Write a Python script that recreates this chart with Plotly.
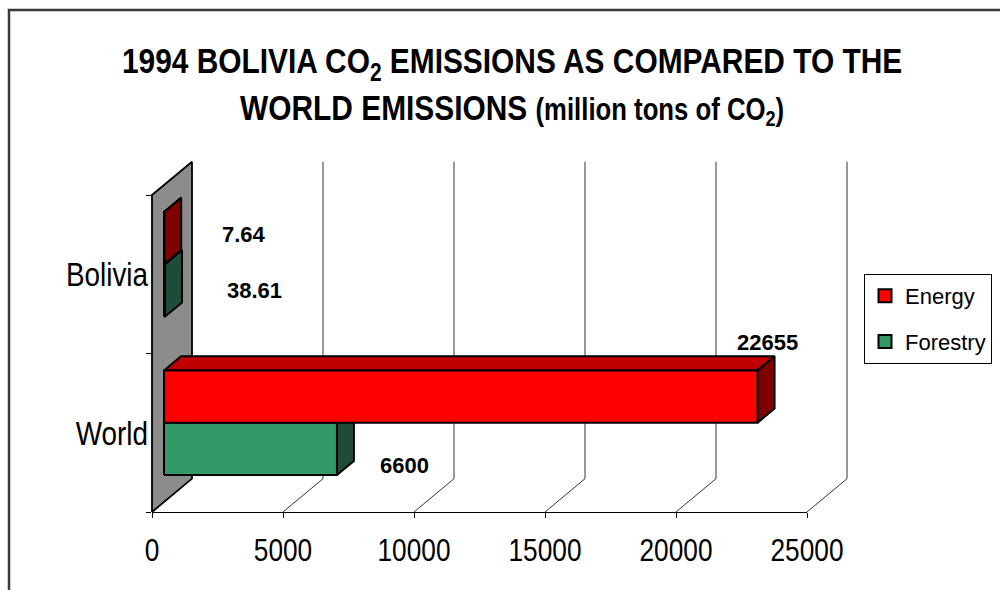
import plotly.graph_objects as go

# ---- data -------------------------------------------------------------
categories = ["World", "Bolivia"]
energy = [22655, 7.64]
forestry = [6600, 38.61]
x_ticks = [0, 5000, 10000, 15000, 20000, 25000]

# ---- layout geometry (pixels of the 1000x590 page) -------------------
W, H = 1000, 590
FRONT_LEFT, FRONT_RIGHT = 152, 807      # value axis 0 .. 25000 on the front floor edge
FLOOR_Y, FRONT_TOP = 512, 195           # front plane spans categories -0.5 .. 1.5
DEPTH_PX = (40, -33.3)                  # offset of the back wall relative to the front plane
BAR_D0, BAR_D1 = 0.30, 0.725            # bar depth slice (fraction of the full depth)
BAR_T = 0.33                            # bar thickness in category units
CONDENSE = 0.82                         # horizontal squeeze for the narrow-style texts
TITLE_CONDENSE = 0.83

K = (FRONT_RIGHT - FRONT_LEFT) / x_ticks[-1]   # px per value unit
CU = (FLOOR_Y - FRONT_TOP) / 2.0               # px per category unit
DX = DEPTH_PX[0] / K
DY = -DEPTH_PX[1] / CU

SANS = "Liberation Sans, Arial, sans-serif"

ENERGY_C = dict(front="#FF0000", top="#C00000", end="#800000")
FOREST_C = dict(front="#339966", top="#267350", end="#1D4D38")


def px_x(p):
    return p / W


def px_y(p):
    return 1 - p / H


def proj(v, c, d):
    """Point at value v, category coordinate c and depth d (0 front .. 1 back)."""
    return v + d * DX, c + d * DY


# drawing area for the 3-D frame (x2/y2), mapped onto the same pixel scale
DRAW_L, DRAW_R, DRAW_T, DRAW_B = 60, 960, 130, 540
x2_range = [(DRAW_L - FRONT_LEFT) / K, (DRAW_R - FRONT_LEFT) / K]
y2_range = [(FLOOR_Y - DRAW_B) / CU - 0.5, (FLOOR_Y - DRAW_T) / CU - 0.5]

fig = go.Figure()


def poly(points, fill, width=2.0, color="black"):
    xs = [p[0] for p in points] + [points[0][0]]
    ys = [p[1] for p in points] + [points[0][1]]
    fig.add_trace(go.Scatter(
        x=xs, y=ys, mode="lines", fill="toself", fillcolor=fill,
        line=dict(color=color, width=width), xaxis="x2", yaxis="y2",
        showlegend=False, hoverinfo="skip"))


# axis-only subplot: keeps the front-edge axis, ticks and labels
fig.add_trace(go.Scatter(x=[None], y=[None], showlegend=False, hoverinfo="skip"))

# back-wall gridlines and floor diagonals
gx, gy = [], []
for v in x_ticks[1:]:
    for a, b in ((proj(v, -0.5, 1), proj(v, 1.5, 1)), (proj(v, -0.5, 0), proj(v, -0.5, 1))):
        gx += [a[0], b[0], None]
        gy += [a[1], b[1], None]
fig.add_trace(go.Scatter(x=gx, y=gy, mode="lines", line=dict(color="#333333", width=1),
                         xaxis="x2", yaxis="y2", showlegend=False, hoverinfo="skip"))

# side wall
poly([proj(0, -0.5, 0), proj(0, 1.5, 0), proj(0, 1.5, 1), proj(0, -0.5, 1)], "#8C8C8C", 1.8)


def bar(v, c_lo, c_hi, colors):
    poly([proj(0, c_hi, BAR_D0), proj(v, c_hi, BAR_D0), proj(v, c_hi, BAR_D1), proj(0, c_hi, BAR_D1)],
         colors["top"])
    poly([proj(v, c_lo, BAR_D0), proj(v, c_lo, BAR_D1), proj(v, c_hi, BAR_D1), proj(v, c_hi, BAR_D0)],
         colors["end"])
    poly([proj(0, c_lo, BAR_D0), proj(v, c_lo, BAR_D0), proj(v, c_hi, BAR_D0), proj(0, c_hi, BAR_D0)],
         colors["front"])


# paint from the back category to the front one
for i in reversed(range(len(categories))):
    bar(forestry[i], i - BAR_T, i, FOREST_C)
    bar(energy[i], i, i + BAR_T, ENERGY_C)

# legend entries
for name, col in (("Energy", ENERGY_C["front"]), ("Forestry", FOREST_C["front"])):
    fig.add_trace(go.Scatter(
        x=[None], y=[None], mode="markers", name=name, legendgroup=name,
        marker=dict(symbol="square", size=13, color=col, line=dict(color="black", width=2)),
        xaxis="x2", yaxis="y2"))

# value labels
label_font = dict(family=SANS, size=22, color="black")
label_shift = {("energy", 0): (22, 64), ("forestry", 0): (80, -7),
               ("energy", 1): (92, 14), ("forestry", 1): (101, 10)}
annotations = []
for key, vals, sign in (("energy", energy, 1), ("forestry", forestry, -1)):
    for i, v in enumerate(vals):
        sx, sy = label_shift[(key, i)]
        annotations.append(dict(
            x=v, y=i + sign * BAR_T / 2, xref="x2", yref="y2", text=f"<b>{v:g}</b>",
            showarrow=False, xanchor="center", yanchor="middle",
            xshift=sx, yshift=sy, font=label_font))

TITLE_INDEX = len(annotations)
annotations.append(dict(
    x=px_x(512), y=px_y(85), xref="paper", yref="paper", showarrow=False,
    xanchor="center", yanchor="middle", align="center",
    text=("<b>1994 BOLIVIA CO<sub>2</sub> EMISSIONS AS COMPARED TO THE<br>"
          "WORLD EMISSIONS <span style='font-size:31px'>(million tons of CO<sub>2</sub>)</span></b>"),
    font=dict(family=SANS, size=36, color="black")))

fig.update_layout(
    width=W, height=H,
    margin=dict(l=0, r=0, t=0, b=0),
    paper_bgcolor="white", plot_bgcolor="rgba(0,0,0,0)",
    showlegend=True,
    legend=dict(x=px_x(864), y=px_y(274), xanchor="left", yanchor="top",
                bgcolor="white", bordercolor="black", borderwidth=1,
                font=dict(family=SANS, size=22, color="black"),
                itemwidth=30, tracegroupgap=14, traceorder="grouped"),
    xaxis=dict(domain=[px_x(FRONT_LEFT), px_x(FRONT_RIGHT)], range=[x_ticks[0], x_ticks[-1]],
               anchor="y", showline=True, linecolor="black", linewidth=1,
               ticks="outside", ticklen=5, tickcolor="black", tickwidth=1,
               tickvals=x_ticks, ticktext=[str(t) for t in x_ticks],
               showgrid=False, zeroline=False, automargin=False,
               ticklabelstandoff=5,
               tickfont=dict(family=SANS, size=32, color="black")),
    yaxis=dict(domain=[px_y(FLOOR_Y), px_y(FRONT_TOP)], range=[-0.5, 1.5], anchor="x",
               tickvals=[0, 1], ticktext=categories, ticks="",
               minor=dict(tick0=-0.5, dtick=1, ticks="outside", ticklen=5,
                          tickcolor="black", tickwidth=1, showgrid=False),
               showline=False, showgrid=False, zeroline=False, automargin=False,
               ticklabelstandoff=3,
               tickfont=dict(family=SANS, size=34, color="black")),
    xaxis2=dict(domain=[px_x(DRAW_L), px_x(DRAW_R)], range=x2_range, anchor="y2",
                visible=False, showgrid=False, zeroline=False),
    yaxis2=dict(domain=[px_y(DRAW_B), px_y(DRAW_T)], range=y2_range, anchor="x2",
                visible=False, showgrid=False, zeroline=False),
    annotations=annotations,
    shapes=[dict(type="rect", xref="paper", yref="paper",
                 x0=px_x(9), x1=1.05, y0=-0.05, y1=px_y(10),
                 line=dict(color="#3A3A3A", width=2.5), fillcolor="rgba(0,0,0,0)")],
)

# squeeze axis labels and the title horizontally, in the style of a narrow typeface
condense_js = """
var gd = document.getElementById('{plot_id}');
function condense(sel, s, anchor) {
  gd.querySelectorAll(sel).forEach(function (t) {
    var b = t.getBBox();
    var cx = anchor === 'end' ? b.x + b.width : b.x + b.width / 2;
    var tr = t.getAttribute('transform') || '';
    t.setAttribute('transform', tr + ' translate(' + cx + ',0) scale(' + s + ',1) translate(' + (-cx) + ',0)');
  });
}
condense('.xtick text', SCALE, 'middle');
condense('.ytick text', SCALE, 'end');
condense('.annotation[data-index="IDX"] text', TSCALE, 'middle');
""".replace("TSCALE", str(TITLE_CONDENSE)).replace("SCALE", str(CONDENSE)).replace("IDX", str(TITLE_INDEX))

fig.write_html("out.html", post_script=condense_js)
